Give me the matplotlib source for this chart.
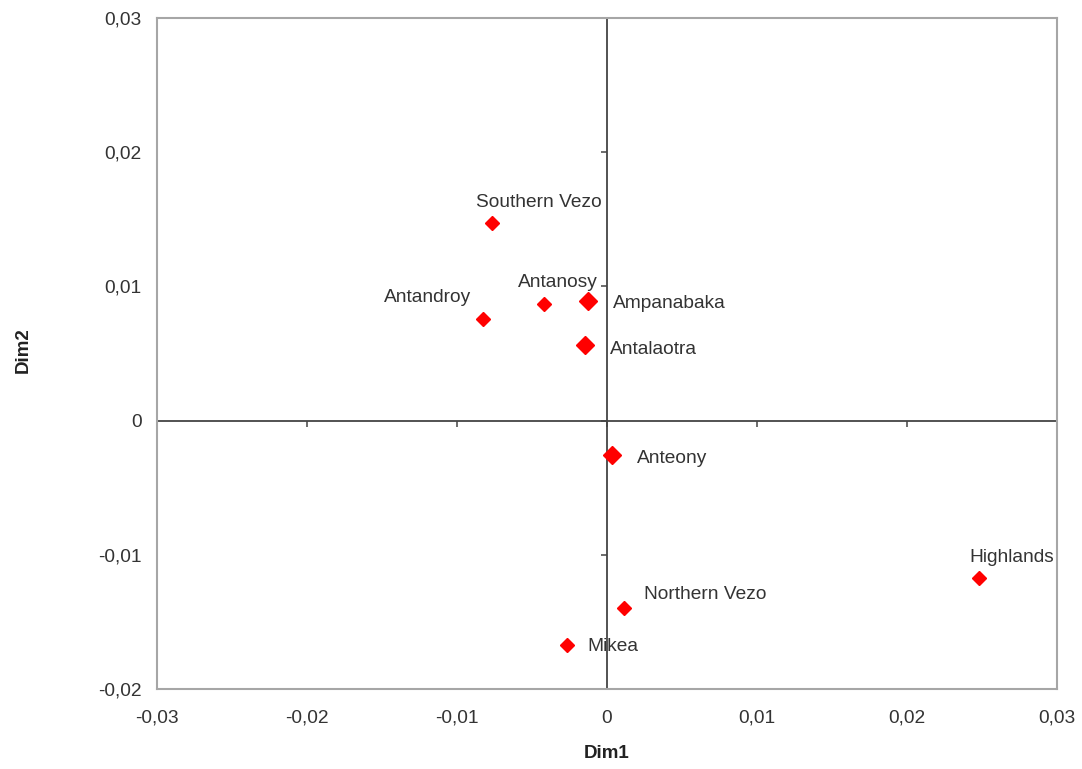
import matplotlib
matplotlib.use("Agg")
import matplotlib.pyplot as plt
from matplotlib import markers as mk
from matplotlib.ticker import FuncFormatter

plt.rcParams['font.family'] = ['Liberation Sans', 'DejaVu Sans']

names = ["Southern Vezo", "Antanosy", "Ampanabaka", "Antandroy", "Antalaotra",
         "Anteony", "Highlands", "Northern Vezo", "Mikea"]
dim1 = [-0.0077, -0.0042, -0.0013, -0.0083, -0.0015, 0.0003, 0.0248, 0.0011, -0.0027]
dim2 = [0.0147, 0.0087, 0.0089, 0.0076, 0.0056, -0.0026, -0.0117, -0.0140, -0.0167]
big = [False, False, True, False, True, True, False, False, False]

xticks = [-0.03, -0.02, -0.01, 0, 0.01, 0.02, 0.03]
yticks = [-0.02, -0.01, 0, 0.01, 0.02, 0.03]

# label offsets in pixels (dx, dy), ha
offsets = {
    "Southern Vezo": (47, 21, "center"),
    "Antanosy": (14, 21, "center"),
    "Ampanabaka": (25, -2, "left"),
    "Antandroy": (-55, 21, "center"),
    "Antalaotra": (25, -4, "left"),
    "Anteony": (25, -3, "left"),
    "Highlands": (33, 20, "center"),
    "Northern Vezo": (21, 14, "left"),
    "Mikea": (21, -2, "left"),
}

FS = 13.8

fig = plt.figure(figsize=(10.82, 7.69), dpi=100)
ax = fig.add_axes([157/1082, 1-689/769, 900/1082, 671/769])
ax.set_xlim(-0.03, 0.03)
ax.set_ylim(-0.02, 0.03)

for s in ax.spines.values():
    s.set_color("#a6a6a6")
    s.set_linewidth(1.5)

ax.set_xticks(xticks)
ax.set_yticks(yticks)
fmt = FuncFormatter(lambda v, p: "0" if abs(v) < 1e-12 else ("%.2f" % v).replace(".", ","))
ax.xaxis.set_major_formatter(fmt)
ax.yaxis.set_major_formatter(fmt)
ax.tick_params(length=0, labelsize=FS, colors="#333333", pad=15)
ax.tick_params(axis='y', pad=11)

ax.axhline(0, color="#444444", lw=1.3, zorder=1)
ax.axvline(0, color="#444444", lw=1.3, zorder=1)
ax.plot([0]*len(yticks), yticks, ls="none", marker=mk.TICKLEFT, ms=4, mew=1.1, color="#444444", clip_on=False, zorder=1)
ax.plot(xticks, [0]*len(xticks), ls="none", marker=mk.TICKDOWN, ms=4, mew=1.1, color="#444444", clip_on=False, zorder=1)

for n, x, y, b in zip(names, dim1, dim2, big):
    ax.plot(x, y, ls="none", marker="D", ms=9.2 if b else 7.1, color="#ff0000", mec="#ff0000", zorder=3)
    dx, dy, ha = offsets[n]
    ax.annotate(n, (x, y), xytext=(dx*0.72, dy*0.72), textcoords="offset points",
                ha=ha, va="center", fontsize=FS, color="#333333")

ax.set_xlabel("Dim1", fontweight="bold", fontsize=13.5, color="#222222")
ax.set_ylabel("Dim2", fontweight="bold", fontsize=13.5, color="#222222")
ax.xaxis.set_label_coords((607-157)/900, -(745-689)/671)
ax.yaxis.set_label_coords(-(157-32)/900, (689-350)/671)

fig.savefig("out.png", dpi=100)
